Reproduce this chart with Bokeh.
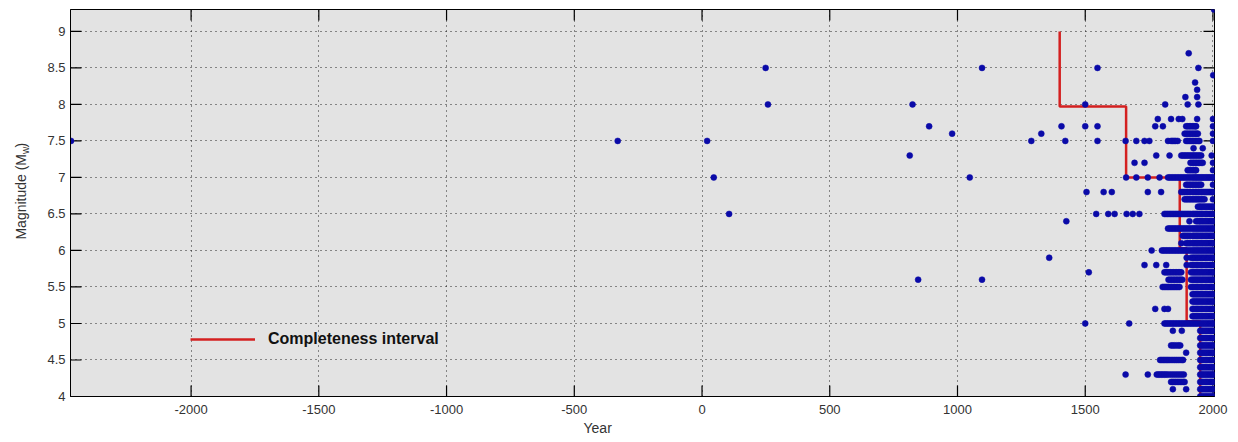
import math
from bokeh.plotting import figure
from bokeh.layouts import row
from bokeh.models import Range1d, FixedTicker, ColumnDataSource, Title
from bokeh.core.properties import value
from bokeh.embed import file_html
from bokeh.resources import INLINE

# ---------------- data ----------------
x_ticks = [-2000, -1500, -1000, -500, 0, 500, 1000, 1500, 2000]
x_tick_labels = ["-2000", "-1500", "-1000", "-500", "0", "500", "1000", "1500", "2000"]
y_ticks = [4, 4.5, 5, 5.5, 6, 6.5, 7, 7.5, 8, 8.5, 9]
y_tick_labels = ["4", "4.5", "5", "5.5", "6", "6.5", "7", "7.5", "8", "8.5", "9"]

completeness_years = [1400, 1400, 1660, 1660, 1870, 1870, 1897, 1897, 1950, 1950]
completeness_mags = [9.0, 7.97, 7.97, 7.0, 7.0, 6.03, 6.03, 5.03, 5.03, 4.0]

col_1950 = [1950, 1955, 1960, 1965, 1970, 1975, 1980, 1985, 1990, 1995, 2000, 2004]
col_1920 = [1920, 1925, 1930, 1935, 1940, 1945] + col_1950

level_mags = [4.0, 4.1, 4.2, 4.3, 4.4, 4.5, 4.6, 4.7, 4.8, 4.9,
              5.0, 5.1, 5.2, 5.3, 5.4, 5.5, 5.6, 5.7, 5.8, 5.9,
              6.0, 6.1, 6.2, 6.3, 6.4, 6.5, 6.6, 6.7, 6.8, 6.9,
              7.0, 7.1, 7.2, 7.3, 7.4, 7.5, 7.6, 7.7, 7.8,
              8.0, 8.1, 8.2, 8.3, 8.4, 8.5, 8.7, 9.3]
level_years = [
    col_1950,
    [1843, 1895] + col_1950,
    [1836, 1842, 1848, 1854, 1860, 1866, 1872, 1878, 1884, 1889] + col_1950,
    [1658, 1745, 1780, 1786, 1792, 1798, 1804, 1810, 1816, 1822, 1830, 1838, 1846,
     1854, 1862, 1870, 1878, 1886] + col_1950,
    col_1950,
    [1793, 1799, 1805, 1811, 1817, 1823, 1829, 1836, 1843, 1850, 1857, 1864, 1871,
     1878, 1883] + col_1950,
    [1895] + col_1950,
    [1836, 1843, 1850, 1858, 1866, 1872] + col_1950,
    col_1950,
    [1843, 1878] + col_1950,
    [1500, 1672, 1810, 1816, 1822, 1828, 1834, 1840, 1846, 1852, 1858, 1864, 1870,
     1876, 1882, 1888, 1894, 1900, 1906, 1912, 1918, 1924, 1930, 1936, 1942] + col_1950,
    col_1920,
    [1774, 1810, 1824] + col_1920,
    col_1920,
    col_1920,
    [1803, 1809, 1815, 1821, 1827, 1833, 1839, 1845, 1851, 1857, 1863, 1869, 1914] + col_1920,
    [846, 1096, 1826, 1832, 1838, 1844, 1850, 1856, 1862, 1868, 1874, 1880, 1914] + col_1920,
    [1514, 1810, 1816, 1822, 1828, 1834, 1840, 1846, 1852, 1858, 1864, 1870, 1876,
     1914] + col_1920,
    [1732, 1778, 1817, 1897, 1914] + col_1920,
    [1359, 1897, 1914] + col_1920,
    [1760, 1800, 1806, 1812, 1818, 1824, 1830, 1836, 1842, 1848, 1854, 1860, 1866,
     1872, 1878, 1884, 1890, 1896, 1902, 1908, 1914] + col_1920,
    [1876, 1895, 1901, 1907, 1913] + col_1920,
    [1882, 1888, 1894, 1900, 1906, 1912] + col_1920,
    [1824, 1830, 1836, 1842, 1848, 1854, 1860, 1866, 1872, 1878, 1884, 1890, 1896,
     1902, 1908, 1914] + col_1920,
    [1426, 1908, 1934, 1940, 1946] + col_1950,
    [106, 1543, 1590, 1615, 1662, 1686, 1712, 1810, 1816, 1822, 1828, 1834, 1840,
     1846, 1852, 1858, 1864, 1870, 1876, 1882, 1888, 1894, 1900, 1906, 1912] + col_1920,
    [1941, 1947] + col_1950,
    [1889, 1895, 1901, 1907, 1913, 1919, 1925, 1931, 1937, 1943, 1949, 1955, 1961,
     1967, 2000],
    [1505, 1572, 1604, 1745, 1797, 1876, 1882, 1888, 1894, 1900, 1906, 1912] + col_1920,
    [1895, 1901, 1907, 1913, 1919, 1925, 1931, 1937, 1943, 1949, 1954, 2000],
    [46, 1048, 1660, 1700, 1745, 1791, 1824, 1830, 1836, 1842, 1848, 1854, 1860,
     1866, 1872, 1878, 1884, 1890, 1896, 1902, 1908, 1914] + col_1920,
    [1901, 1907, 1913, 1919, 1925, 1931, 1934, 2000],
    [1693, 1732, 1912, 1918, 1924, 1930, 1936, 1942, 1948, 1954, 1960, 2000],
    [813, 1778, 1830, 1876, 1882, 1888, 1894, 1900, 1906, 1912, 1918, 1924, 1930,
     1936, 1942, 1948, 1954, 1995],
    [1924, 1960],
    [-2470, -330, 20, 1289, 1422, 1548, 1658, 1700, 1732, 1751, 1824, 1836, 1842,
     1848, 1854, 1862, 1895, 1901, 1907, 1913, 1919, 1925, 1931, 1937, 1943, 1947, 2000],
    [979, 1328, 1889, 1895, 1901, 1907, 1913, 1919, 1925, 1931, 1937, 1941, 2000],
    [889, 1407, 1500, 1548, 1774, 1804, 1895, 1901, 1907, 1913, 1919, 1925, 1931,
     1934, 2000],
    [1784, 1836, 1866, 1880, 1938, 2000],
    [258, 824, 1500, 1813, 1901, 1943],
    [1892, 1938],
    [1938],
    [1930],
    [2001],
    [249, 1096, 1548, 1943],
    [1905],
    [2004],
]

# ---------------- build sources ----------------
ev_x, ev_y = [], []
for m, yrs in zip(level_mags, level_years):
    for yr in yrs:
        ev_x.append(yr)
        ev_y.append(m)
events = ColumnDataSource(data=dict(year=ev_x, mag=ev_y))
stairs = ColumnDataSource(data=dict(year=completeness_years, mag=completeness_mags))

FONT = "Liberation Sans"
W, H = 1238, 442
LABEL_W = 38                       # strip on the left holding the y-axis title
FL, FR, FT, FB = 70, 1214, 9, 396  # frame edges in page pixels
X0, X1 = -2472, 2006
Y0, Y1 = 4.0, 9.3
MW = W - LABEL_W

p = figure(width=MW, height=H, output_backend="svg", toolbar_location=None,
           x_range=Range1d(X0, X1), y_range=Range1d(Y0, Y1),
           min_border_left=FL - LABEL_W, min_border_right=W - FR,
           min_border_top=FT, min_border_bottom=H - FB)

p.background_fill_color = "#e3e3e3"
p.border_fill_color = "white"
p.outline_line_color = "#000000"
p.outline_line_width = 1

for ax in (p.xaxis[0], p.yaxis[0]):
    ax.major_tick_in = 0
    ax.major_tick_out = 0
    ax.minor_tick_line_color = None
    ax.axis_line_color = "#000000"
    ax.major_label_text_font = FONT
    ax.major_label_text_font_size = "13px"
    ax.major_label_text_color = "#333333"

p.xaxis[0].ticker = FixedTicker(ticks=x_ticks)
p.yaxis[0].ticker = FixedTicker(ticks=y_ticks)
p.xaxis[0].major_label_overrides = {t: s for t, s in zip(x_ticks, x_tick_labels)}
p.yaxis[0].major_label_overrides = {t: s for t, s in zip(y_ticks, y_tick_labels)}
p.xaxis[0].major_label_standoff = 8
p.yaxis[0].major_label_standoff = 5

for g in (p.xgrid[0], p.ygrid[0]):
    g.grid_line_color = "#111111"
    g.grid_line_dash = "1 4"
    g.grid_line_alpha = 0.9
    g.grid_line_width = 1
p.xgrid[0].ticker = FixedTicker(ticks=x_ticks)
p.ygrid[0].ticker = FixedTicker(ticks=y_ticks)

# inward tick marks on all four sides (11 px long)
tx = 11 * (X1 - X0) / (FR - FL)
ty = 11 * (Y1 - Y0) / (FB - FT)
p.segment(x0=x_ticks, y0=[Y0] * len(x_ticks), x1=x_ticks, y1=[Y0 + ty] * len(x_ticks),
          line_color="#000000", line_width=1.2)
p.segment(x0=x_ticks, y0=[Y1] * len(x_ticks), x1=x_ticks, y1=[Y1 - ty] * len(x_ticks),
          line_color="#000000", line_width=1.2)
p.segment(x0=[X0] * len(y_ticks), y0=y_ticks, x1=[X0 + tx] * len(y_ticks), y1=y_ticks,
          line_color="#000000", line_width=1.2)
p.segment(x0=[X1] * len(y_ticks), y0=y_ticks, x1=[X1 - tx] * len(y_ticks), y1=y_ticks,
          line_color="#000000", line_width=1.2)

p.line("year", "mag", source=stairs, line_color="#d42020", line_width=2.5,
       legend_label="Completeness interval")
p.scatter("year", "mag", source=events, marker="circle", size=6,
          fill_color="#0a0aa8", line_color="#0a0aa8", line_width=0.5)

lg = p.legend[0]
lg.location = (120, 48)
lg.glyph_width = 65
lg.glyph_height = 16
lg.label_height = 16
lg.label_standoff = 13
lg.padding = 0
lg.margin = 0
lg.spacing = 0
lg.background_fill_alpha = 0
lg.border_line_alpha = 0
lg.label_text_font = FONT
lg.label_text_font_size = "16px"
lg.label_text_font_style = "bold"
lg.label_text_color = "#111111"

# x-axis title, placed left of the frame centre as in the reference
p.add_layout(Title(text="Year", align="left", offset=597 - FL - 14,
                   text_font=FONT, text_font_size="14px", text_font_style="normal",
                   text_color="#333333", standoff=2), "below")

# ---------------- left strip with the y-axis title ----------------
lp = figure(width=LABEL_W, height=H, output_backend="svg", toolbar_location=None,
            x_range=Range1d(0, LABEL_W), y_range=Range1d(H, 0),
            min_border=0, x_axis_type=None, y_axis_type=None)
lp.outline_line_color = None
lp.background_fill_color = "white"
lp.border_fill_color = "white"
lp.grid.visible = False
lp.text(x=[20], y=[165], text=["Magnitude (M"], angle=math.pi / 2,
        text_align="right", text_baseline="middle", text_font=value(FONT),
        text_font_size="14px", text_color="#333333")
lp.text(x=[25], y=[165], text=["w"], angle=math.pi / 2,
        text_align="left", text_baseline="middle", text_font=value(FONT),
        text_font_size="10px", text_color="#333333")
lp.text(x=[20], y=[157.5], text=[")"], angle=math.pi / 2,
        text_align="left", text_baseline="middle", text_font=value(FONT),
        text_font_size="14px", text_color="#333333")

layout = row(lp, p, spacing=0)
open("out.html", "w").write(file_html(layout, INLINE))
